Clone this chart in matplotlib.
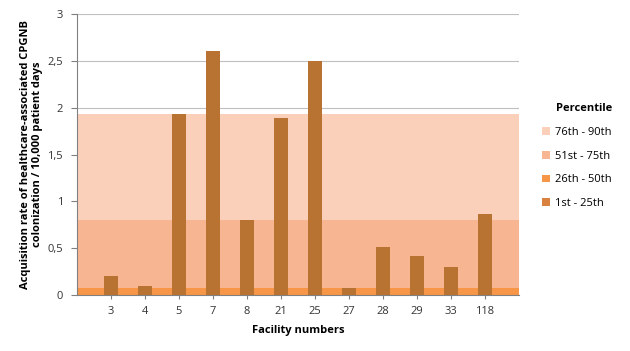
import matplotlib
matplotlib.use("Agg")
import matplotlib.pyplot as plt
from matplotlib.patches import Patch

facilities = ["3", "4", "5", "7", "8", "21", "25", "27", "28", "29", "33", "118"]
rates = [0.20, 0.10, 1.93, 2.60, 0.80, 1.89, 2.50, 0.08, 0.51, 0.42, 0.30, 0.87]

band_labels = ["76th - 90th", "51st - 75th", "26th - 50th", "1st - 25th"]
band_tops = [1.93, 0.80, 0.08, 0.0]
band_colors = ["#FAD0BB", "#F7B591", "#F79646", "#D9823F"]
bar_color = "#B87333"

plt.rcParams['font.family'] = ['Open Sans', 'DejaVu Sans']

fig = plt.figure(figsize=(6.30, 3.51), dpi=100)
ax = fig.add_axes([77/630, 1 - 295/351, (519-77)/630, (295-14)/351])

n = len(facilities)
xs = list(range(1, n + 1))
ax.set_xlim(0, n + 1)
ax.set_ylim(0, 3)

for top, col in zip(band_tops, band_colors):
    if top > 0:
        ax.axhspan(0, top, color=col, lw=0, zorder=1)

ax.bar(xs, rates, width=0.4, color=bar_color, zorder=3)

ax.set_yticks([0, 0.5, 1, 1.5, 2, 2.5, 3])
ax.set_yticklabels(["0", "0,5", "1", "1,5", "2", "2,5", "3"], fontsize=8, color="#333333")
ax.set_xticks(xs)
ax.set_xticklabels(facilities, fontsize=8, color="#333333")
ax.yaxis.grid(True, color="#BFBFBF", lw=0.8, zorder=0)
ax.set_axisbelow(True)
ax.tick_params(axis='y', length=4, color="#808080", pad=6)
ax.tick_params(axis='x', length=3, color="#808080", pad=5)
for s in ["top", "right"]:
    ax.spines[s].set_visible(False)
for s in ["left", "bottom"]:
    ax.spines[s].set_color("#808080")
    ax.spines[s].set_linewidth(0.8)

ax.set_xlabel("Facility numbers", fontsize=8, fontweight="bold", labelpad=6)
ax.set_ylabel("Acquisition rate of healthcare-associated CPGNB\ncolonization / 10,000 patient days",
              fontsize=8, fontweight="bold", labelpad=3)

handles = [Patch(facecolor=c, edgecolor="none") for c in band_colors]
leg = fig.legend(handles, band_labels, loc="upper left", bbox_to_anchor=(532/630, 1 - 93/351),
                 frameon=False, title="Percentile", fontsize=8, labelspacing=1.15,
                 handlelength=0.7, handleheight=0.7, handletextpad=0.5)
leg.get_title().set_fontweight("bold")
leg.get_title().set_fontsize(8)
leg._legend_box.align = "right"

fig.savefig("out.png", dpi=100)
